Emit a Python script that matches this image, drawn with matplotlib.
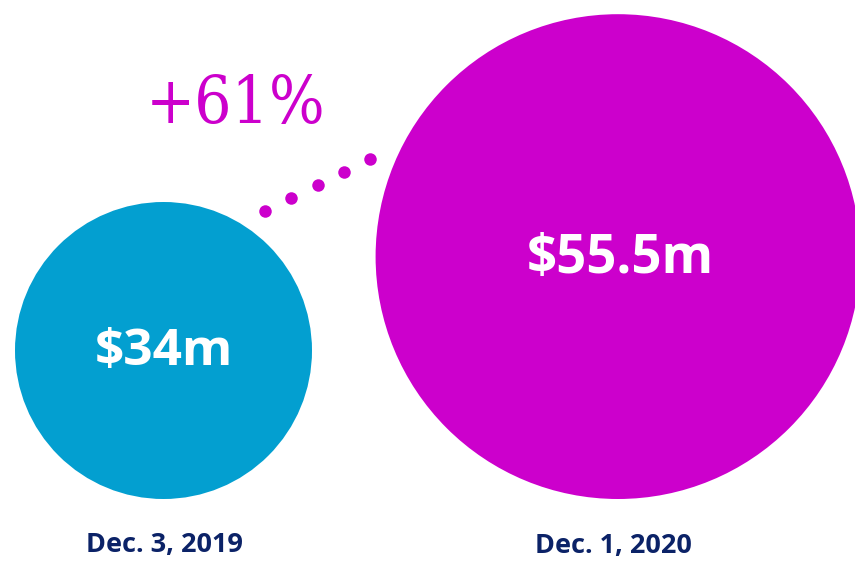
import matplotlib
matplotlib.use("Agg")
import matplotlib.pyplot as plt
from matplotlib.patches import Circle

# Data
dates = ["Dec. 3, 2019", "Dec. 1, 2020"]
values = [34.0, 55.5]
value_labels = ["$34m", "$55.5m"]
change_label = "+61%"

# Style
colors = ["#039FD0", "#CC00CC"]
navy = "#0B2267"
W, H = 855, 563

fig = plt.figure(figsize=(W / 100, H / 100), dpi=100)
ax = fig.add_axes([0, 0, 1, 1])
ax.set_xlim(0, W)
ax.set_ylim(H, 0)
ax.set_aspect("equal")
ax.axis("off")

scale = 148.5 / values[0]          # radius in px per $m
bottom = 499
centers_x = [163.5, 618]
label_pos = [(164, 545), (613, 546)]
label_sizes = [37, 38]

for i, v in enumerate(values):
    r = v * scale
    cy = bottom - r
    ax.add_patch(Circle((centers_x[i], cy), r, facecolor=colors[i], edgecolor="none"))
    ax.text(centers_x[i] + 2 * i, cy + 2, value_labels[i], ha="center", va="center",
            color="white", fontsize=label_sizes[i], fontweight="bold", family="Open Sans")
    ax.text(label_pos[i][0], label_pos[i][1], dates[i], ha="center", va="center",
            color=navy, fontsize=19.5, fontweight="bold", family="Open Sans")

# dotted connector
n_dots = 5
x0, y0, x1, y1 = 265, 211, 370, 159
xs = [x0 + (x1 - x0) * k / (n_dots - 1) for k in range(n_dots)]
ys = [y0 + (y1 - y0) * k / (n_dots - 1) for k in range(n_dots)]
ax.plot(xs, ys, "o", color=colors[1], markersize=9, markeredgewidth=0)

ax.text(236, 123, change_label, ha="center", va="baseline", color=colors[1],
        fontsize=47, family="DejaVu Serif", fontstretch="condensed")

fig.savefig("out.png", dpi=100)
